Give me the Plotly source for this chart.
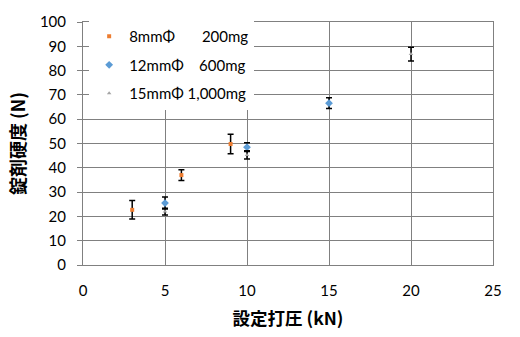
import plotly.graph_objects as go

# Data
series_names = ["8mmΦ\u00a0\u00a0\u00a0\u00a0\u00a0\u00a0\u00a0200mg",
                "12mmΦ\u00a0\u00a0\u00a0\u00a0600mg",
                "15mmΦ 1,000mg"]
x8 = [3, 6, 9]
y8 = [22.7, 37.0, 49.8]
e8 = [3.8, 2.2, 4.0]

x12 = [5, 10, 15]
y12 = [25.5, 48.5, 66.6]
e12 = [2.5, 1.8, 2.2]

x15 = [5, 10, 20]
y15 = [22.0, 45.3, 86.8]
e15 = [1.4, 1.7, 2.8]

colors = ["#ED7D31", "#5B9BD5", "#A5A5A5"]
symbols = ["square", "diamond", "triangle-up"]
sizes = [4, 6, 4]

fig = go.Figure()
for i, (xs, ys, es) in enumerate([(x8, y8, e8), (x12, y12, e12), (x15, y15, e15)]):
    fig.add_trace(go.Scatter(
        x=xs, y=ys, mode="markers", name=series_names[i],
        legendgroup=f"g{i}",
        marker=dict(color=colors[i], symbol=symbols[i], size=sizes[i]),
        error_y=dict(type="data", array=es, visible=True, color="black",
                     thickness=1.5, width=3),
    ))

grid = "#808080"
fig.update_layout(
    width=520, height=337,
    margin=dict(l=83, r=27, t=15, b=71),
    paper_bgcolor="white", plot_bgcolor="white",
    font=dict(family="Lato, Noto Sans CJK JP", size=14, color="black"),
    showlegend=True,
    legend=dict(x=0.015, y=1.008, xanchor="left", yanchor="top",
                bgcolor="rgba(255,255,255,1)", tracegroupgap=6,
                font=dict(size=15, family="Lato"), itemwidth=30),
    xaxis=dict(range=[0, 25], dtick=5, showgrid=True, gridcolor=grid, gridwidth=1,
               showline=True, linecolor=grid, mirror=True, zeroline=False,
               ticks="", ticklabelstandoff=12,
               tickfont=dict(size=15),
               title=dict(text="<b>設定打圧 (kN)</b>",
                          font=dict(family="Noto Sans CJK JP", size=17.5), standoff=14)),
    yaxis=dict(range=[0, 100], dtick=10, showgrid=True, gridcolor=grid, gridwidth=1,
               showline=True, linecolor=grid, mirror=True, zeroline=False,
               ticks="outside", ticklen=5, tickcolor=grid,
               ticklabelstandoff=8,
               tickfont=dict(size=15),
               title=dict(text="<b>錠剤硬度 (N)</b>",
                          font=dict(family="Noto Sans CJK JP", size=18), standoff=9)),
)

fig.write_html("out.html")
